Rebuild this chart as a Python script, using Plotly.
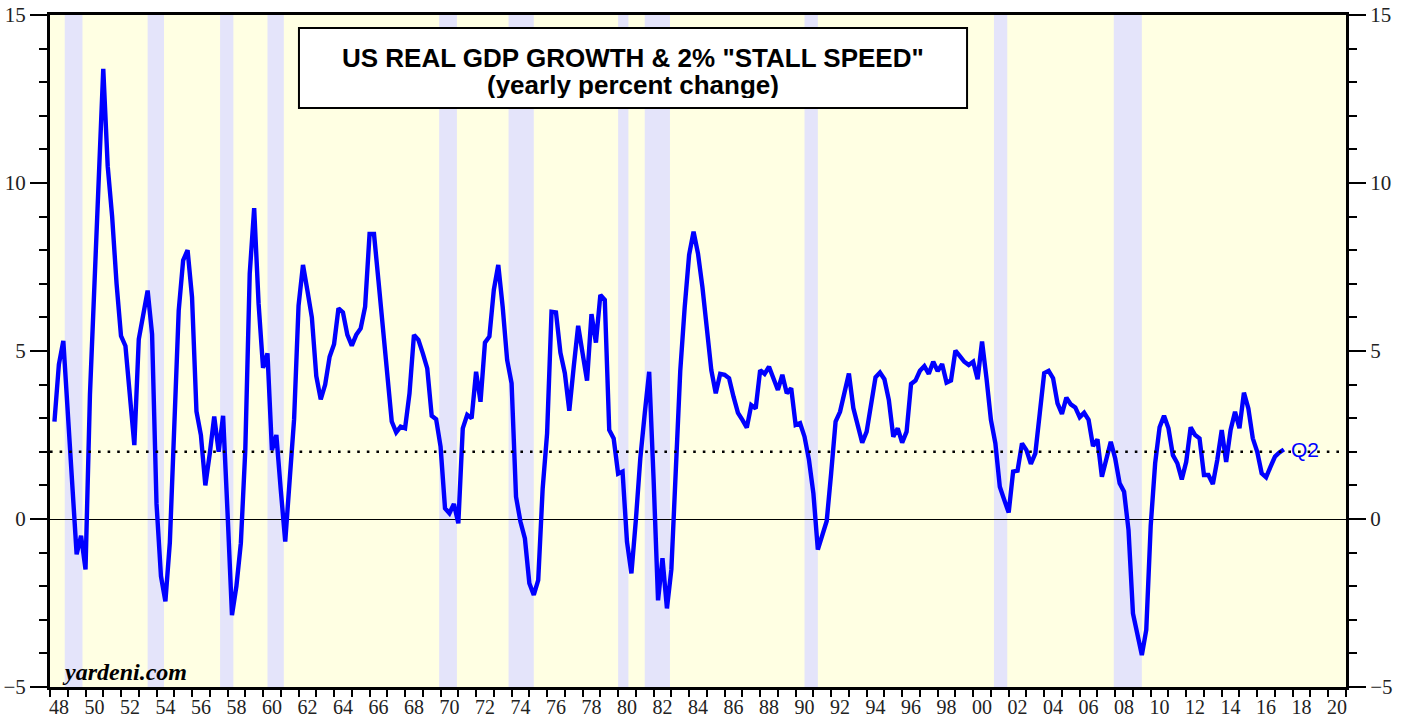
import plotly.graph_objects as go

# ---------------- data (yearly % change of US real GDP, quarterly) ----------------
start_year = 1948
gdp_1948_1949 = [2.9, 4.6, 5.3, 3.3, 0.9, -1.05, -0.5, -1.5]
gdp_1950s = [3.7, 7.2, 10.0, 13.4, 10.5, 9.0, 7.0, 5.45, 5.15, 3.6, 2.2, 5.35,
             6.15, 6.8, 5.5, 0.45, -1.7, -2.45, -0.7, 2.8, 6.2, 7.7, 8.0, 6.6,
             3.2, 2.5, 1.0, 1.95, 3.05, 2.0, 3.07, 0.2, -2.86, -2.0, -0.72, 2.05,
             7.3, 9.25, 6.4, 4.5]
gdp_1960s = [4.93, 2.05, 2.5, 0.86, -0.67, 1.16, 2.97, 6.35, 7.56, 6.8, 6.0, 4.25,
             3.56, 4.0, 4.83, 5.2, 6.27, 6.15, 5.48, 5.16, 5.48, 5.67, 6.32, 8.48,
             8.48, 7.1, 5.7, 4.3, 2.9, 2.58, 2.75, 2.7, 3.74, 5.48, 5.33, 4.93,
             4.48, 3.07, 2.97, 2.15]
gdp_1970s = [0.32, 0.17, 0.45, -0.13, 2.7, 3.1, 3.0, 4.38, 3.49, 5.25, 5.43, 6.82,
             7.56, 6.3, 4.73, 4.04, 0.66, -0.08, -0.58, -1.91, -2.26, -1.82, 0.9, 2.55,
             6.17, 6.15, 4.95, 4.34, 3.22, 4.53, 5.75, 4.93, 4.12, 6.1, 5.25, 6.67,
             6.52, 2.65, 2.4, 1.35]
gdp_1980s = [1.41, -0.68, -1.62, -0.03, 1.8, 3.14, 4.38, 1.16, -2.42, -1.17, -2.66, -1.5,
             1.4, 4.4, 6.3, 7.86, 8.55, 7.9, 6.9, 5.6, 4.43, 3.74, 4.32, 4.29,
             4.19, 3.64, 3.16, 2.95, 2.72, 3.39, 3.29, 4.43, 4.32, 4.53, 4.19, 3.84,
             4.29, 3.74, 3.89, 2.8]
gdp_1990s = [2.85, 2.45, 1.76, 0.76, -0.91, -0.5, -0.06, 1.36, 2.9, 3.19, 3.74, 4.33,
             3.3, 2.75, 2.27, 2.6, 3.44, 4.22, 4.36, 4.16, 3.54, 2.45, 2.7, 2.27,
             2.6, 4.02, 4.12, 4.41, 4.55, 4.32, 4.68, 4.4, 4.61, 4.06, 4.12, 5.01,
             4.85, 4.68, 4.58, 4.68]
gdp_2000s = [4.16, 5.28, 4.19, 2.95, 2.25, 0.96, 0.57, 0.19, 1.41, 1.44, 2.25, 2.05,
             1.64, 1.95, 3.14, 4.34, 4.41, 4.19, 3.44, 3.13, 3.61, 3.41, 3.32, 3.03,
             3.16, 2.95, 2.17, 2.37, 1.26, 1.8, 2.3, 1.8, 1.06, 0.81, -0.33, -2.81,
             -3.45, -4.05, -3.3, -0.2]
gdp_2010s = [1.66, 2.73, 3.07, 2.7, 1.9, 1.66, 1.18, 1.7, 2.73, 2.5, 2.4, 1.31,
             1.31, 1.04, 1.76, 2.65, 1.7, 2.65, 3.19, 2.7, 3.76, 3.29, 2.4, 2.0,
             1.36, 1.24, 1.56, 1.86, 1.98, 2.07]

stall_speed = 2.0
last_label = "Q2"

# NBER recessions (decimal years: start of peak month, end of trough month)
rec_start = [1948.83, 1953.5, 1957.58, 1960.25, 1969.92, 1973.83, 1980.0, 1981.5,
             1990.5, 2001.17, 2007.92]
rec_end = [1949.83, 1954.42, 1958.33, 1961.17, 1970.92, 1975.25, 1980.58, 1982.92,
           1991.25, 2001.92, 2009.5]

x_min, x_max = 1948, 2021
label_years = list(range(1948, 2021, 2))
y_ticks = [-5, 0, 5, 10, 15]

# ---------------- build ----------------
gdp = (gdp_1948_1949 + gdp_1950s + gdp_1960s + gdp_1970s + gdp_1980s +
       gdp_1990s + gdp_2000s + gdp_2010s)
quarters = [f"{start_year + i // 4}Q{i % 4 + 1}" for i in range(len(gdp))]
xq = [int(q[:4]) + int(q[-1]) / 4 for q in quarters]

BLUE = "#0000FF"
BG = "#FFFFE3"
REC = "#E4E4FA"
YTICKFONT = dict(family="Liberation Serif, Times New Roman, serif", size=21, color="#222222")
XTICKFONT = dict(family="Liberation Serif, Times New Roman, serif", size=20, color="#222222")
TITLEFONT = dict(family="Liberation Sans, Arial, sans-serif", size=26, color="black")

fig = go.Figure()
fig.add_trace(go.Scatter(x=xq, y=gdp, mode="lines", line=dict(color=BLUE, width=4.4),
                         hoverinfo="x+y", showlegend=False))
fig.add_trace(go.Scatter(x=[x_min, x_max], y=[stall_speed, stall_speed], mode="lines",
                         line=dict(color="black", width=2.6, dash="2.6px,7px"),
                         yaxis="y2", showlegend=False, hoverinfo="skip"))

shapes = [dict(type="rect", xref="x", yref="paper", x0=s, x1=e, y0=0, y1=1,
               fillcolor=REC, line_width=0, layer="below")
          for s, e in zip(rec_start, rec_end)]
# title box
shapes.append(dict(type="rect", xref="paper", yref="paper",
                   x0=0.1921, x1=0.7076, y0=0.8616, y1=0.9807,
                   fillcolor="white", line=dict(color="black", width=2), layer="above"))

annotations = [
    dict(xref="paper", yref="paper", x=0.4498, y=0.9375, xanchor="center", yanchor="middle",
         text="<b>US REAL GDP GROWTH &amp; 2% \"STALL SPEED\"</b>", showarrow=False,
         height=25, borderpad=0, font=TITLEFONT),
    dict(xref="paper", yref="paper", x=0.4498, y=0.8973, xanchor="center", yanchor="middle",
         text="<b>(yearly percent change)</b>", showarrow=False,
         height=27, borderpad=0, font=TITLEFONT),
    dict(xref="paper", yref="paper", x=0.0075, y=0.0223, xanchor="left", yanchor="middle",
         text="<b><i>yardeni.com</i></b>", showarrow=False,
         font=dict(family="Liberation Serif, Times New Roman, serif", size=24, color="black")),
    dict(xref="x", yref="y", x=xq[-1], y=gdp[-1], xanchor="left", yanchor="middle",
         xshift=5, text=last_label, showarrow=False,
         font=dict(family="Liberation Sans, Arial, sans-serif", size=21, color=BLUE)),
]

fig.update_layout(
    width=1405, height=721,
    margin=dict(l=50, r=59, t=15, b=34, autoexpand=False),
    paper_bgcolor="white", plot_bgcolor=BG,
    showlegend=False,
    shapes=shapes, annotations=annotations,
    xaxis=dict(range=[x_min, x_max], tickmode="array", automargin=False,
               tickvals=[y + 0.5 for y in label_years],
               ticktext=[f"{y % 100:02d}" for y in label_years],
               ticks="", showline=True, linewidth=3, linecolor="black", mirror=True,
               showgrid=False, zeroline=False, tickfont=XTICKFONT, ticklabelstandoff=0,
               minor=dict(ticks="outside", ticklen=7, tickwidth=2, tickcolor="black",
                          tick0=1948, dtick=1, showgrid=False)),
    yaxis=dict(range=[-5, 15], tickmode="array", tickvals=y_ticks, automargin=False,
               ticks="outside", ticklen=17, tickwidth=1.5, tickcolor="black",
               showline=True, linewidth=3, linecolor="black",
               showgrid=False, zeroline=True, zerolinecolor="black", zerolinewidth=1,
               tickfont=YTICKFONT,
               minor=dict(ticks="outside", ticklen=8, tickwidth=2, tickcolor="black",
                          tick0=0, dtick=1, showgrid=False)),
    yaxis2=dict(range=[-5, 15], overlaying="y", side="right", tickmode="array",
                automargin=False,
                tickvals=y_ticks, ticks="outside", ticklen=17, tickwidth=1.5,
                tickcolor="black", showline=True, linewidth=3, linecolor="black",
                showgrid=False, zeroline=False, tickfont=YTICKFONT,
                minor=dict(ticks="outside", ticklen=8, tickwidth=2, tickcolor="black",
                           tick0=0, dtick=1, showgrid=False)),
)

fig.write_html(
    "out.html",
    config={"displayModeBar": False},
    post_script="document.body.style.margin='0px';document.body.style.overflow='hidden';",
)
